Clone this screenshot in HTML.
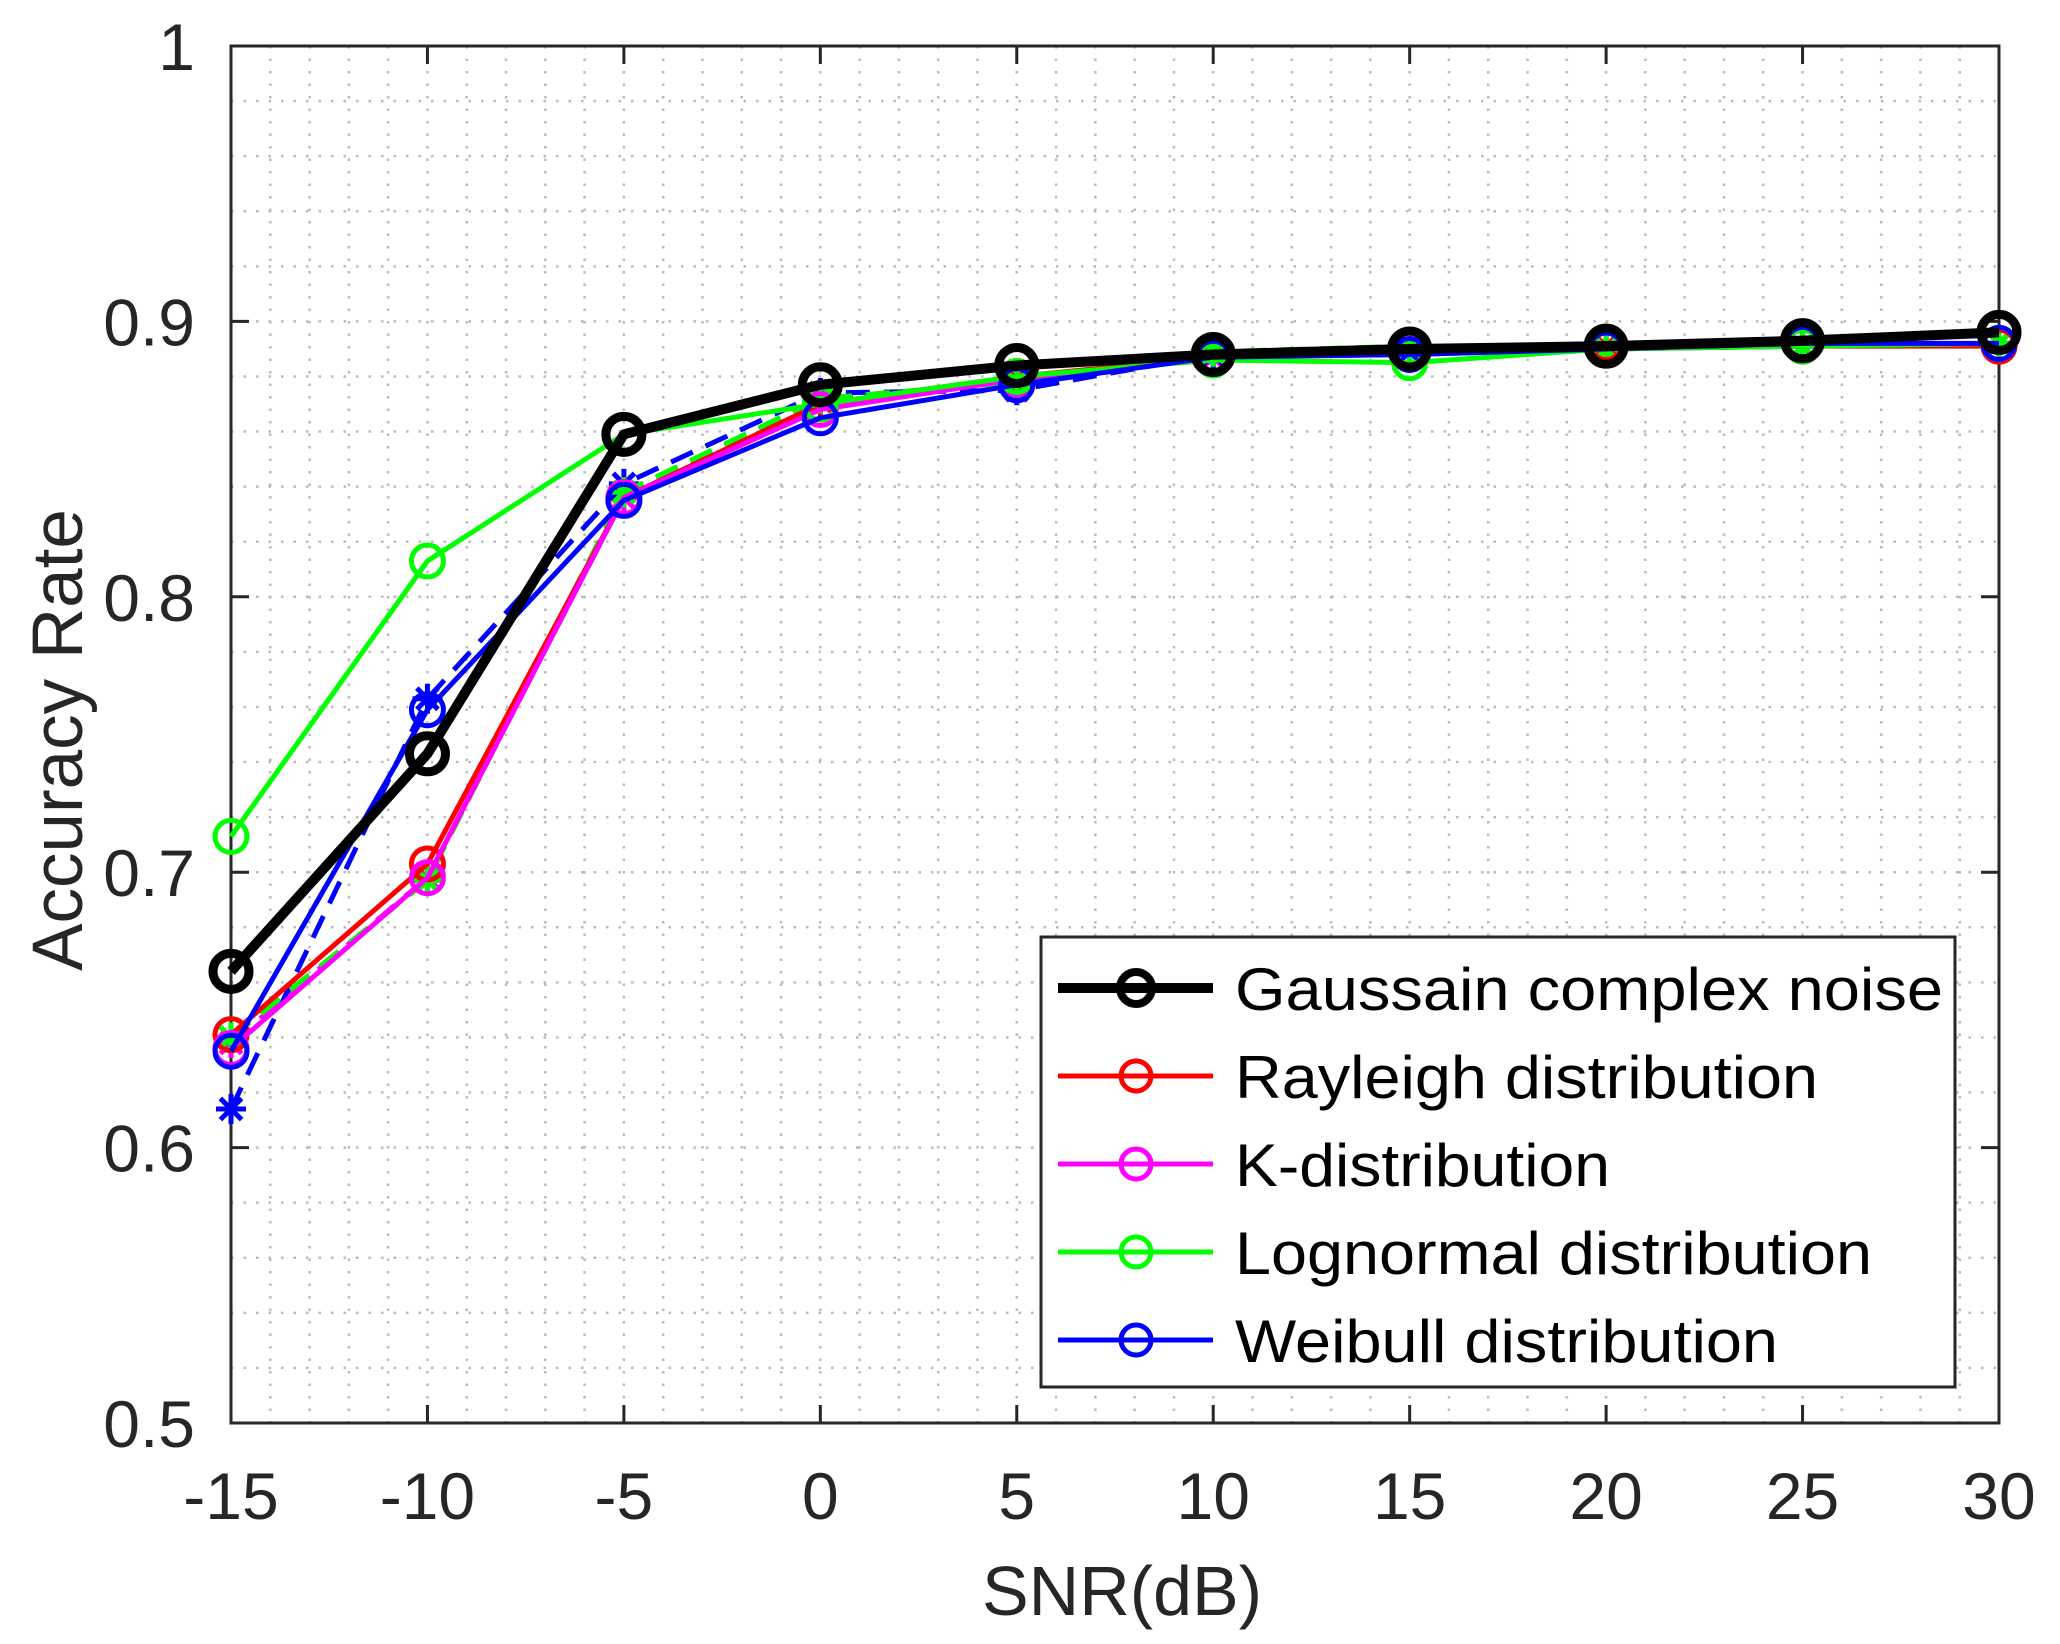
<!DOCTYPE html>
<html><head><meta charset="utf-8"><style>
html,body{margin:0;padding:0;background:#fff;}
svg{display:block;}
text{font-family:"Liberation Sans",sans-serif;fill:#262626;}
</style></head><body>
<svg id="s" width="2060" height="1644" viewBox="0 0 2060 1644" xmlns="http://www.w3.org/2000/svg"></svg>
<script>
const L=231,R=1999,T=46,B=1423;
const X=v=>L+(v+15)/45*(R-L);
const Y=v=>B-(v-0.5)/0.5*(B-T);
let s='';
for(let v=-14;v<30;v++){s+=`<line x1="${X(v)}" y1="${T}" x2="${X(v)}" y2="${B}" stroke="#bbb" stroke-width="2.5" stroke-dasharray="2.5 10"/>`;}
for(let i=1;i<25;i++){const v=0.5+i*0.02;s+=`<line x1="${L}" y1="${Y(v)}" x2="${R}" y2="${Y(v)}" stroke="#bbb" stroke-width="2.5" stroke-dasharray="2.5 10"/>`;}
s+=`<rect x="${L}" y="${T}" width="${R-L}" height="${B-T}" fill="none" stroke="#262626" stroke-width="3"/>`;
const xs=[-15,-10,-5,0,5,10,15,20,25,30];
xs.forEach(v=>{const x=X(v);s+=`<line x1="${x}" y1="${B}" x2="${x}" y2="${B-18}" stroke="#262626" stroke-width="3"/><line x1="${x}" y1="${T}" x2="${x}" y2="${T+18}" stroke="#262626" stroke-width="3"/><text x="${x}" y="${B+96}" font-size="66" text-anchor="middle">${v}</text>`;});
[0.5,0.6,0.7,0.8,0.9,1].forEach(v=>{const y=Y(v);s+=`<line x1="${L}" y1="${y}" x2="${L+18}" y2="${y}" stroke="#262626" stroke-width="3"/><line x1="${R}" y1="${y}" x2="${R-18}" y2="${y}" stroke="#262626" stroke-width="3"/><text x="${L-36}" y="${y+24}" font-size="66" text-anchor="end">${v===1?'1':v.toFixed(1)}</text>`;});
s+=`<text x="1122" y="1615" font-size="70" text-anchor="middle">SNR(dB)</text>`;
s+=`<text transform="translate(82,740) rotate(-90)" font-size="71" text-anchor="middle">Accuracy Rate</text>`;
function circ(x,y,c,w,r){return `<circle cx="${x}" cy="${y}" r="${r}" fill="none" stroke="${c}" stroke-width="${w}"/>`;}
function star(x,y,c){let r=15,o='';for(let a=0;a<180;a+=45){const t=a*Math.PI/180;o+=`<line x1="${x-r*Math.cos(t)}" y1="${y-r*Math.sin(t)}" x2="${x+r*Math.cos(t)}" y2="${y+r*Math.sin(t)}" stroke="${c}" stroke-width="5"/>`;}return o;}
function series(d,c,w,m,dash){const pts=d.map((v,i)=>[X(xs[i]),Y(v)]);s+=`<polyline points="${pts.map(p=>p.join(',')).join(' ')}" fill="none" stroke="${c}" stroke-width="${w}" ${dash?'stroke-dasharray="24 14"':''} stroke-linejoin="round"/>`;pts.forEach(p=>{s+=m==='o'?circ(p[0],p[1],c,w>6?9:5,w>6?18:16):star(p[0],p[1],c);});}
series([0.640,0.697,0.838,0.871,0.879,0.888,0.890,0.891,0.891,0.892],'#ff0000',5,'*',true);
series([0.638,0.698,0.836,0.872,0.878,0.887,0.889,0.890,0.891,0.892],'#ff00ff',5,'*',true);
series([0.614,0.763,0.841,0.874,0.875,0.888,0.889,0.890,0.891,0.892],'#0000ff',5,'*',true);
series([0.640,0.697,0.838,0.872,0.878,0.889,0.891,0.890,0.891,0.892],'#00ff00',5,'*',true);
series([0.641,0.703,0.836,0.870,0.880,0.887,0.890,0.892,0.891,0.891],'#ff0000',5,'o');
series([0.636,0.698,0.836,0.868,0.879,0.887,0.888,0.890,0.891,0.892],'#ff00ff',5,'o');
series([0.713,0.813,0.859,0.870,0.880,0.886,0.885,0.890,0.891,0.892],'#00ff00',5,'o');
series([0.635,0.759,0.835,0.865,0.877,0.887,0.888,0.890,0.892,0.892],'#0000ff',5,'o');
series([0.664,0.743,0.859,0.877,0.884,0.888,0.890,0.891,0.893,0.896],'#000000',10,'o');
s+=`<rect x="1041" y="937" width="914" height="450" fill="#fff" stroke="#262626" stroke-width="3"/>`;
const lg=[['Gaussain complex noise','#000',10],['Rayleigh distribution','#ff0000',5],['K-distribution','#ff00ff',5],['Lognormal distribution','#00ff00',5],['Weibull distribution','#0000ff',5]];
const tl=[708,583,375,637,543];
lg.forEach((e,i)=>{const y=988+i*88;s+=`<line x1="1058" y1="${y}" x2="1213" y2="${y}" stroke="${e[1]}" stroke-width="${e[2]}"/>`+circ(1136,y,e[1],e[2]>6?8:5,e[2]>6?16:15)+`<text x="1235" y="${y+22}" font-size="60" style="fill:#000" textLength="${tl[i]}" lengthAdjust="spacingAndGlyphs">${e[0]}</text>`;});
document.getElementById('s').innerHTML=s;
</script>
</body></html>
